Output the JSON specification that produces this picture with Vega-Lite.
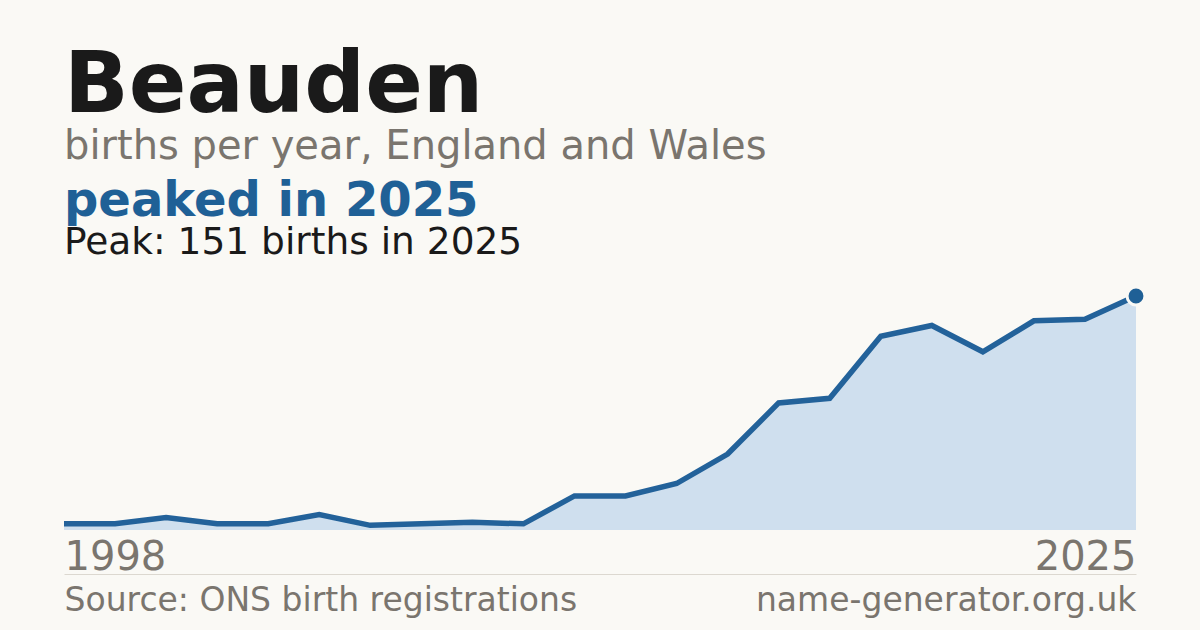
{
  "$schema": "https://vega.github.io/schema/vega-lite/v6.json",
  "background": "#faf9f5",
  "padding": {"left": 53, "top": 43, "right": 64, "bottom": 40},
  "title": {
    "text": "Beauden",
    "subtitle": "births per year, England and Wales",
    "anchor": "start",
    "frame": "group",
    "font": "DejaVu Sans",
    "fontSize": 85,
    "fontWeight": "bold",
    "color": "#1a1a1a",
    "subtitleFont": "DejaVu Sans",
    "subtitleFontSize": 40,
    "subtitleColor": "#7a756e",
    "subtitlePadding": -3,
    "offset": 10
  },
  "vconcat": [
    {
      "width": 1072,
      "height": 234,
      "title": {
        "text": "peaked in 2025",
        "subtitle": "Peak: 151 births in 2025",
        "anchor": "start",
        "frame": "group",
        "font": "DejaVu Sans",
        "fontSize": 48,
        "fontWeight": "bold",
        "color": "#1f6096",
        "subtitleFont": "DejaVu Sans",
        "subtitleFontSize": 37.5,
        "subtitleColor": "#1a1a1a",
        "subtitlePadding": -2,
        "offset": 20
      },
      "data": {
        "values": [
          {"year": 1998, "births": 4},
          {"year": 1999, "births": 4},
          {"year": 2001, "births": 8},
          {"year": 2003, "births": 4},
          {"year": 2004, "births": 4},
          {"year": 2006, "births": 10},
          {"year": 2008, "births": 3},
          {"year": 2009, "births": 4},
          {"year": 2011, "births": 5},
          {"year": 2013, "births": 4},
          {"year": 2014, "births": 22},
          {"year": 2015, "births": 22},
          {"year": 2016, "births": 30},
          {"year": 2017, "births": 49},
          {"year": 2018, "births": 82},
          {"year": 2019, "births": 85},
          {"year": 2020, "births": 125},
          {"year": 2021, "births": 132},
          {"year": 2022, "births": 115},
          {"year": 2023, "births": 135},
          {"year": 2024, "births": 136},
          {"year": 2025, "births": 151}
        ]
      },
      "encoding": {
        "x": {"field": "year", "type": "ordinal", "scale": {"type": "point", "padding": 0}},
        "y": {
          "field": "births",
          "type": "quantitative",
          "scale": {"domain": [0, 151], "nice": false},
          "axis": null
        }
      },
      "layer": [
        {
          "mark": {"type": "area", "color": "#cfdfee", "opacity": 1},
          "encoding": {
            "x": {
              "field": "year",
              "type": "ordinal",
              "scale": {"type": "point", "padding": 0},
              "axis": {
                "orient": "bottom",
                "offset": 44,
                "title": "Source: ONS birth registrations",
                "titleAnchor": "start",
                "titleFont": "DejaVu Sans",
                "titleFontSize": 33,
                "titleFontWeight": "normal",
                "titleColor": "#7a756e",
                "titlePadding": 7,
                "domainColor": "#dcd8d0",
                "domainWidth": 1,
                "ticks": false,
                "tickSize": 0,
                "grid": false,
                "labelOverlap": false,
                "labelAngle": 0,
                "labelFont": "DejaVu Sans",
                "labelFontSize": 40,
                "labelColor": "#7a756e",
                "labelBaseline": "alphabetic",
                "labelPadding": -5,
                "labelExpr": "datum.value == 1998 || datum.value == 2025 ? datum.label : ''",
                "labelAlign": {"condition": {"test": "datum.value == 1998", "value": "left"}, "value": "right"}
              }
            }
          }
        },
        {
          "mark": {"type": "line", "color": "#23629a", "strokeWidth": 5.5},
          "encoding": {
            "x": {
              "field": "year",
              "type": "ordinal",
              "scale": {"type": "point", "padding": 0},
              "axis": {
                "orient": "bottom",
                "offset": 44,
                "title": "name-generator.org.uk",
                "titleAnchor": "end",
                "titleFont": "DejaVu Sans",
                "titleFontSize": 33,
                "titleFontWeight": "normal",
                "titleColor": "#7a756e",
                "titlePadding": 7,
                "domain": false,
                "ticks": false,
                "tickSize": 0,
                "grid": false,
                "labelOverlap": false,
                "labelAngle": 0,
                "labelFont": "DejaVu Sans",
                "labelFontSize": 40,
                "labelOpacity": 0,
                "labelBaseline": "alphabetic",
                "labelPadding": -5,
                "labelExpr": "datum.value == 1998 || datum.value == 2025 ? datum.label : ''",
                "labelAlign": {"condition": {"test": "datum.value == 1998", "value": "left"}, "value": "right"}
              }
            }
          }
        },
        {
          "transform": [{"filter": "datum.year == 2025"}],
          "mark": {"type": "point", "filled": true, "color": "#1f6096", "size": 320, "stroke": "#faf9f5", "strokeWidth": 3, "opacity": 1},
          "encoding": {
            "x": {"field": "year", "type": "ordinal", "scale": {"type": "point", "padding": 0}, "axis": null}
          }
        }
      ],
      "resolve": {"axis": {"x": "independent"}}
    }
  ],
  "config": {
    "font": "DejaVu Sans",
    "view": {"stroke": null}
  }
}
